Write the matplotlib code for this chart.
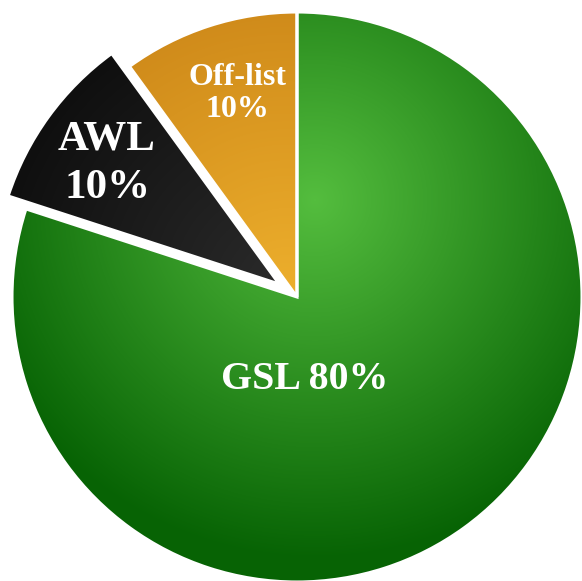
import numpy as np
import matplotlib.pyplot as plt
from matplotlib.colors import LinearSegmentedColormap

# Shares, counter-clockwise from 12 o'clock
labels = ["Off-list", "AWL", "GSL"]
shares = [10, 10, 80]

# Radial gradients (centre colour, rim colour) per slice
inner_colors = ["#ecae2c", "#2a2a2a", "#54bd3e"]
outer_colors = ["#cf8a1a", "#0f0f0f", "#076304"]
explode = [0, 22, 0]

W, H = 582, 581
CX, CY, R = 297, H - 297, 285

fig = plt.figure(figsize=(W / 100, H / 100), dpi=100)
ax = fig.add_axes([0, 0, 1, 1])

wedges, _ = ax.pie(shares, startangle=90, counterclock=True, explode=explode,
                   radius=R, center=(CX, CY), frame=True,
                   wedgeprops=dict(edgecolor="white", linewidth=2.2))
ax.set_xlim(0, W)
ax.set_ylim(0, H)
ax.set_aspect("equal")
ax.axis("off")

# gradient fill clipped to each wedge
# (focus / spread of each gradient, offsets from the wedge centre)
focus = [(-10, 10), (0, 0), (18, 97)]
spread = [R, R, 360]
gx, gy = np.meshgrid(np.linspace(0, W, W), np.linspace(0, H, H))
for w, c0, c1, (fx, fy), rg in zip(wedges, inner_colors, outer_colors, focus, spread):
    wx, wy = w.center
    r = np.clip(np.hypot(gx - wx - fx, gy - wy - fy) / rg, 0, 1)
    cmap = LinearSegmentedColormap.from_list("g", [c0, c1])
    im = ax.imshow(r, cmap=cmap, vmin=0, vmax=1, extent=[0, W, 0, H],
                   origin="lower", zorder=1, interpolation="bilinear")
    im.set_clip_path(w)
    w.set_facecolor("none")
    w.set_zorder(2)

font = dict(family="Liberation Serif", weight="bold", color="white", zorder=5)
ax.text(237, H - 85, "Off-list", ha="center", va="baseline", fontsize=23, **font)
ax.text(237, H - 117, "10%", ha="center", va="baseline", fontsize=23, **font)
ax.text(107, H - 149, "AWL", ha="center", va="baseline", fontsize=31, **font)
ax.text(107, H - 198, "10%", ha="center", va="baseline", fontsize=31, **font)
ax.text(305, H - 389, "GSL 80%", ha="center", va="baseline", fontsize=28.7, **font)

fig.savefig("out.png", dpi=100)
